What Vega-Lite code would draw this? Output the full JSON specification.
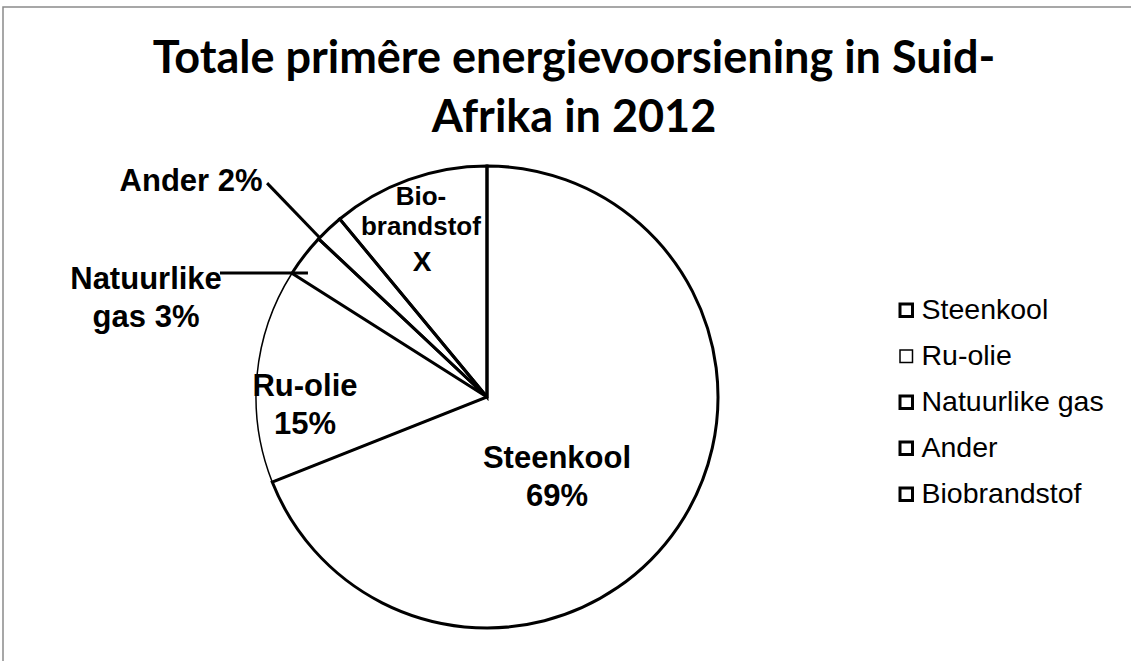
{
  "$schema": "https://vega.github.io/schema/vega-lite/v6.json",
  "autosize": "none",
  "padding": {"left": 3, "top": 7, "right": 0, "bottom": 0},
  "width": 1142,
  "height": 680,
  "background": "white",
  "config": {
    "view": {"stroke": "#8a8a8a", "strokeWidth": 1.5},
    "font": "Liberation Sans"
  },
  "title": {
    "text": ["Totale primêre energievoorsiening in Suid-", "Afrika in 2012"],
    "font": "Lato",
    "fontSize": 45,
    "fontWeight": "bold",
    "color": "black",
    "anchor": "middle",
    "lineHeight": 59,
    "offset": -134
  },
  "datasets": {
    "energie": [
      {"bron": "Steenkool", "persent": 69, "volgorde": 1},
      {"bron": "Ru-olie", "persent": 15, "volgorde": 2},
      {"bron": "Natuurlike gas", "persent": 3, "volgorde": 3},
      {"bron": "Ander", "persent": 2, "volgorde": 4},
      {"bron": "Biobrandstof", "persent": 11, "volgorde": 5}
    ],
    "etikette": [
      {"naam": "Steenkool", "teks": "Steenkool\n69%", "x": 0.303, "y": -0.268},
      {"naam": "Ru-olie", "teks": "Ru-olie\n15%", "x": -0.788, "y": 0.043},
      {"naam": "Natuurlike gas", "teks": "Natuurlike\ngas 3%", "x": -1.476, "y": 0.506},
      {"naam": "Ander", "teks": "Ander 2%", "x": -1.281, "y": 0.931},
      {"naam": "Bio", "teks": "Bio-\nbrandstof", "x": -0.286, "y": 0.866},
      {"naam": "X", "teks": "X", "x": -0.281, "y": 0.58}
    ],
    "lyne": [
      {"naam": "Natuurlike gas", "x": -1.156, "y": 0.537, "x2": -0.775, "y2": 0.537},
      {"naam": "Ander", "x": -0.952, "y": 0.926, "x2": -0.723, "y2": 0.688}
    ]
  },
  "layer": [
    {
      "data": {"name": "energie"},
      "mark": {"type": "arc", "outerRadius": 231, "fill": "white", "stroke": null},
      "encoding": {
        "theta": {"field": "persent", "type": "quantitative", "stack": true},
        "order": {"field": "volgorde", "type": "quantitative"},
        "x": {"datum": 0, "type": "quantitative", "scale": {"domain": [-2.0952, 2.8485], "nice": false, "zero": false}, "axis": null},
        "y": {"datum": 0, "type": "quantitative", "scale": {"domain": [-1.2554, 1.6883], "nice": false, "zero": false}, "axis": null}
      }
    },
    {
      "data": {"name": "energie"},
      "mark": {"type": "arc", "outerRadius": 231, "filled": false, "strokeJoin": "miter"},
      "encoding": {
        "theta": {"field": "persent", "type": "quantitative", "stack": true},
        "order": {"field": "volgorde", "type": "quantitative"},
        "x": {"datum": 0, "type": "quantitative"},
        "y": {"datum": 0, "type": "quantitative"},
        "stroke": {
          "field": "bron", "type": "nominal",
          "scale": {"domain": ["Steenkool", "Ru-olie", "Natuurlike gas", "Ander", "Biobrandstof"], "range": ["black", "black", "black", "black", "black"]},
          "legend": {
            "title": null,
            "orient": "none",
            "legendX": 889,
            "legendY": 289,
            "padding": 0,
            "labelFont": "Liberation Sans",
            "labelFontSize": 28.5,
            "labelColor": "black",
            "labelOffset": 1,
            "labelLimit": 400,
            "rowPadding": 17,
            "symbolType": "square",
            "symbolSize": 156,
            "symbolFillColor": "white",
            "symbolStrokeWidth": 4.5,
            "encode": {"symbols": {"update": {"strokeWidth": {"signal": "datum.value === 'Ru-olie' ? 1.2 : 4.5"}}}}
          }
        },
        "strokeWidth": {
          "field": "bron", "type": "nominal",
          "scale": {"type": "ordinal", "domain": ["Steenkool", "Ru-olie", "Natuurlike gas", "Ander", "Biobrandstof"], "range": [3, 1.5, 3, 3, 3]},
          "legend": null
        }
      }
    },
    {
      "data": {"name": "lyne"},
      "mark": {"type": "rule", "stroke": "black", "strokeWidth": 3},
      "encoding": {
        "x": {"field": "x", "type": "quantitative"},
        "y": {"field": "y", "type": "quantitative"},
        "x2": {"field": "x2"},
        "y2": {"field": "y2"}
      }
    },
    {
      "data": {"name": "etikette"},
      "transform": [{"filter": "datum.naam != 'Bio' && datum.naam != 'X'"}],
      "mark": {"type": "text", "font": "Liberation Sans", "fontWeight": "bold", "fontSize": 31, "lineBreak": "\n", "lineHeight": 38, "align": "center", "baseline": "middle", "color": "black"},
      "encoding": {
        "x": {"field": "x", "type": "quantitative"},
        "y": {"field": "y", "type": "quantitative"},
        "text": {"field": "teks"}
      }
    },
    {
      "data": {"name": "etikette"},
      "transform": [{"filter": "datum.naam == 'Bio'"}],
      "mark": {"type": "text", "font": "Liberation Sans", "fontWeight": "bold", "fontSize": 26, "lineBreak": "\n", "lineHeight": 30, "align": "center", "baseline": "middle", "color": "black"},
      "encoding": {
        "x": {"field": "x", "type": "quantitative"},
        "y": {"field": "y", "type": "quantitative"},
        "text": {"field": "teks"}
      }
    },
    {
      "data": {"name": "etikette"},
      "transform": [{"filter": "datum.naam == 'X'"}],
      "mark": {"type": "text", "font": "Liberation Sans", "fontWeight": "bold", "fontSize": 28, "align": "center", "baseline": "middle", "color": "black"},
      "encoding": {
        "x": {"field": "x", "type": "quantitative"},
        "y": {"field": "y", "type": "quantitative"},
        "text": {"field": "teks"}
      }
    }
  ]
}
